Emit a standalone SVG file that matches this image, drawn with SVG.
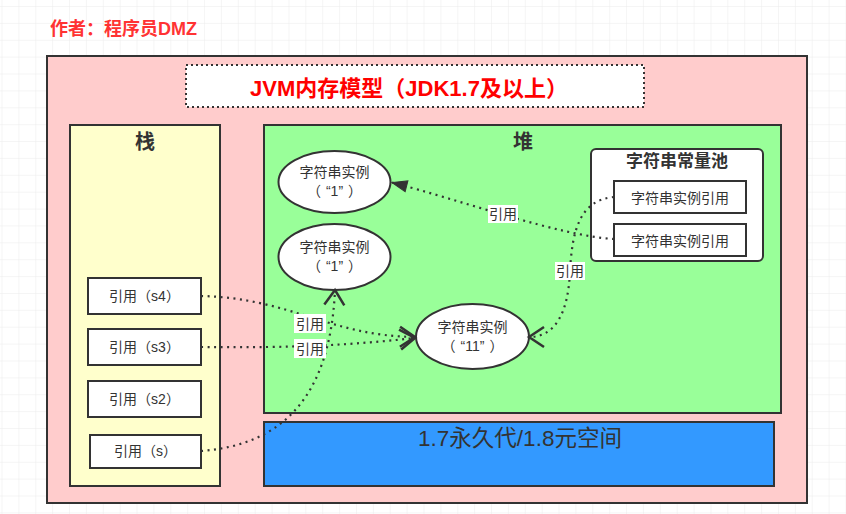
<svg xmlns="http://www.w3.org/2000/svg" width="846" height="514" viewBox="0 0 846 514">
<defs>
<pattern id="grid" x="1.5" y="6" width="16.88" height="16.88" patternUnits="userSpaceOnUse">
<path d="M0 0 H16.88 M0 0 V16.88" fill="none" stroke="#ebebeb" stroke-width="1"/>
</pattern>
<marker id="openArrow" markerUnits="userSpaceOnUse" viewBox="-18 -12 20 24" refX="0" refY="0" markerWidth="20" markerHeight="24" orient="auto" overflow="visible">
<path d="M-15 -10 L0 0 L-15 10" fill="none" stroke="#333" stroke-width="2.5" stroke-dasharray="none"/>
</marker>
<marker id="blockArrow" markerUnits="userSpaceOnUse" viewBox="-18 -8 20 16" refX="0" refY="0" markerWidth="20" markerHeight="16" orient="auto" overflow="visible">
<path d="M0 0 L-15 -5.5 L-15 5.5 Z" fill="#333" stroke="#333" stroke-width="1" stroke-dasharray="none"/>
</marker>
</defs>
<style>
text{font-family:"Liberation Sans","Noto Sans CJK SC",sans-serif;fill:#333;text-anchor:middle}
.box{stroke:#333;stroke-width:2}
.w{fill:#fff}
.t14{font-size:14px}
.lbl{fill:#fff}
.conn{fill:none;stroke:#333;stroke-width:2.2;stroke-dasharray:2 4.5}
.bold{font-weight:bold}
</style>
<rect width="846" height="514" fill="#fff"/>
<rect width="846" height="514" fill="url(#grid)"/>

<text id="author" x="50" y="35" class="bold" style="font-size:18px;fill:#ff3333;text-anchor:start">作者：程序员DMZ</text>

<g id="outer">
<rect x="47" y="56" width="760" height="447" fill="#ffcccc" class="box"/>
</g>
<g id="title">
<rect x="186" y="65" width="458" height="42" fill="#fff" stroke="#333" stroke-width="2" stroke-dasharray="2 3"/>
<text x="409" y="96" class="bold" style="font-size:22px;fill:#ff0000">JVM内存模型（JDK1.7及以上）</text>
</g>

<g id="stack">
<rect x="70" y="125" width="150" height="361" fill="#ffffcc" class="box"/>
<text x="145" y="149" class="bold" style="font-size:20px">栈</text>
</g>
<g id="heap">
<rect x="264" y="125" width="517" height="288" fill="#99ff99" class="box"/>
<text x="523" y="149" class="bold" style="font-size:20px">堆</text>
</g>
<g id="metaspace">
<rect x="264" y="422" width="510" height="64" fill="#3399ff" class="box"/>
<text x="520" y="446" style="font-size:22.5px">1.7永久代/1.8元空间</text>
</g>

<g id="pool">
<rect x="591" y="149" width="172" height="112" rx="5" class="box w"/>
<text x="677" y="167" class="bold" style="font-size:17px">字符串常量池</text>
</g>
<g id="poolRef1">
<rect x="614" y="181" width="132" height="32" class="box w"/>
<text x="680" y="203" class="t14">字符串实例引用</text>
</g>
<g id="poolRef2">
<rect x="614" y="224" width="132" height="32" class="box w"/>
<text x="680" y="246" class="t14">字符串实例引用</text>
</g>

<g id="str1a">
<ellipse cx="334.5" cy="182" rx="56" ry="31" class="box w"/>
<text x="334.5" y="177" class="t14">字符串实例</text>
<text x="334.5" y="196" class="t14">（<tspan dx="5">“1”</tspan><tspan dx="5">）</tspan></text>
</g>
<g id="str1b">
<ellipse cx="334.5" cy="257" rx="56" ry="33" class="box w"/>
<text x="334.5" y="252" class="t14">字符串实例</text>
<text x="334.5" y="271" class="t14">（<tspan dx="5">“1”</tspan><tspan dx="5">）</tspan></text>
</g>
<g id="str11">
<ellipse cx="472.5" cy="336.5" rx="56.5" ry="32.5" class="box w"/>
<text x="472.5" y="332" class="t14">字符串实例</text>
<text x="472.5" y="351" class="t14">（<tspan dx="5">“11”</tspan><tspan dx="5">）</tspan></text>
</g>

<g id="refS4">
<rect x="88" y="278" width="113" height="36" class="box w"/>
<text x="144.5" y="301" class="t14">引用（s4）</text>
</g>
<g id="refS3">
<rect x="88" y="329" width="113" height="36" class="box w"/>
<text x="144.5" y="352" class="t14">引用（s3）</text>
</g>
<g id="refS2">
<rect x="88" y="381" width="113" height="36" class="box w"/>
<text x="144.5" y="404" class="t14">引用（s2）</text>
</g>
<g id="refS">
<rect x="90" y="435" width="111" height="33" class="box w"/>
<text x="145.5" y="456" class="t14">引用（s）</text>
</g>

<g id="connectors">
<path class="conn" d="M614 239 C560 236 460 200 392 182.5" marker-end="url(#blockArrow)"/>
<path class="conn" d="M614 197 C580 200 572 230 570 272 C568 312 556 337 529 337" marker-end="url(#openArrow)"/>
<path class="conn" d="M201 296 C290 298 330 336 415 337" marker-end="url(#openArrow)"/>
<path class="conn" d="M201 347 C300 348 350 345 415 338" marker-end="url(#openArrow)"/>
<path class="conn" d="M201 451 C280 445 330 400 335 290" marker-end="url(#openArrow)"/>
<rect x="488" y="205" width="30" height="18" class="lbl"/>
<text x="503" y="219" class="t14">引用</text>
<rect x="555" y="262" width="30" height="18" class="lbl"/>
<text x="570" y="276" class="t14">引用</text>
<rect x="294" y="314" width="32" height="19" class="lbl"/>
<text x="310" y="328.5" class="t14">引用</text>
<rect x="294" y="339" width="32" height="19" class="lbl"/>
<text x="310" y="353.5" class="t14">引用</text>
</g>
</svg>
